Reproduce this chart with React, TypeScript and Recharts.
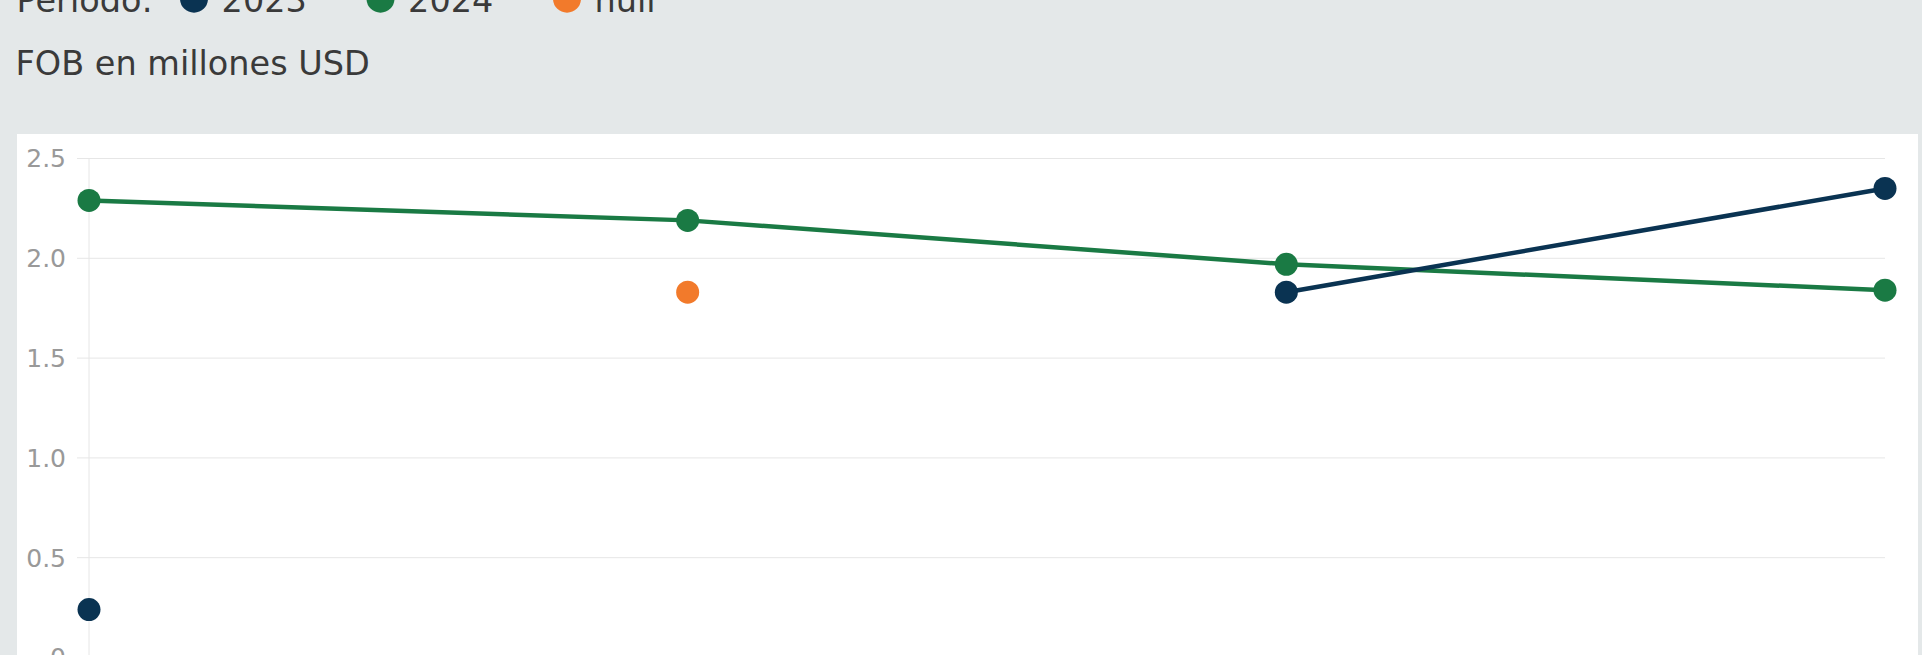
import React from "react";
import { LineChart, Line, XAxis, YAxis, CartesianGrid } from "recharts";

const categories = ["c1", "c2", "c3", "c4"];
const serie2023: (number | null)[] = [0.24, null, 1.83, 2.35];
const serie2024: (number | null)[] = [2.29, 2.19, 1.97, 1.84];
const serieNull: (number | null)[] = [null, 1.83, null, null];
const yTicks = [0, 0.5, 1, 1.5, 2, 2.5];
const yTickLabels = ["0", "0.5", "1.0", "1.5", "2.0", "2.5"];
const seriesKeys = ["s2023", "s2024", "sNull"];
const seriesNames = ["2023", "2024", "null"];
const seriesColors = ["#0a3352", "#1a7a44", "#f27a2b"];
const legendTitle = "Período:";
const subtitle = "FOB en millones USD";

const data = categories.map((c, i) => ({
  cat: c,
  s2023: serie2023[i],
  s2024: serie2024[i],
  sNull: serieNull[i],
}));

const FONT = "'DejaVu Sans', sans-serif";
const TEXT_SIZE = 33.5;
const WEIGHT = 400;
const TEXT_COLOR = "#3a3a3a";

export default function App() {
  const drawOrder = [1, 2, 0];
  return (
    <div
      style={{
        position: "fixed",
        left: 0,
        top: 0,
        width: 1922,
        height: 655,
        overflow: "hidden",
        background: "#e4e8e9",
      }}
    >
      <svg
        width={1922}
        height={134}
        style={{ position: "absolute", left: 0, top: 0, overflow: "visible" }}
      >
        <text x={16.5} y={11.5} fontFamily={FONT} fontWeight={WEIGHT} fontSize={TEXT_SIZE} fill={TEXT_COLOR}>
          {legendTitle}
        </text>
        {seriesNames.map((name, i) => (
          <g key={name}>
            <circle cx={194 + i * 186.5} cy={-1.3} r={14} fill={seriesColors[i]} />
            <text
              x={194 + i * 186.5 + 27.6}
              y={11.5}
              fontFamily={FONT}
              fontWeight={WEIGHT}
              fontSize={TEXT_SIZE}
              fill={TEXT_COLOR}
            >
              {name}
            </text>
          </g>
        ))}
        <text x={15.5} y={74.5} fontFamily={FONT} fontWeight={WEIGHT} fontSize={TEXT_SIZE} fill={TEXT_COLOR}>
          {subtitle}
        </text>
      </svg>
      <div
        style={{
          position: "absolute",
          left: 17,
          top: 134,
          width: 1901,
          height: 560,
          background: "#ffffff",
        }}
      >
        <LineChart
          width={1901}
          height={560}
          data={data}
          margin={{ top: 24.5, right: 33, bottom: 36.5, left: 0 }}
        >
          <CartesianGrid vertical={false} stroke="#e6e6e6" strokeWidth={1} />
          <XAxis dataKey="cat" hide />
          <YAxis
            type="number"
            domain={[0, 2.5]}
            ticks={yTicks}
            interval={0}
            width={72}
            tickSize={12}
            tickMargin={11}
            tickLine={{ stroke: "#e6e6e6" }}
            axisLine={{ stroke: "#e6e6e6" }}
            tickFormatter={(v: number) => yTickLabels[yTicks.indexOf(v)] ?? String(v)}
            tick={{ fill: "#999999", fontSize: 25, fontFamily: FONT, fontWeight: WEIGHT }}
          />
          {drawOrder.map((i) => (
            <Line
              key={seriesKeys[i]}
              dataKey={seriesKeys[i]}
              name={seriesNames[i]}
              type="linear"
              stroke={seriesColors[i]}
              strokeWidth={4.5}
              connectNulls={false}
              dot={{ r: 11.5, fill: seriesColors[i], stroke: "none", strokeWidth: 0 }}
              activeDot={false}
              isAnimationActive={false}
            />
          ))}
        </LineChart>
      </div>
    </div>
  );
}
